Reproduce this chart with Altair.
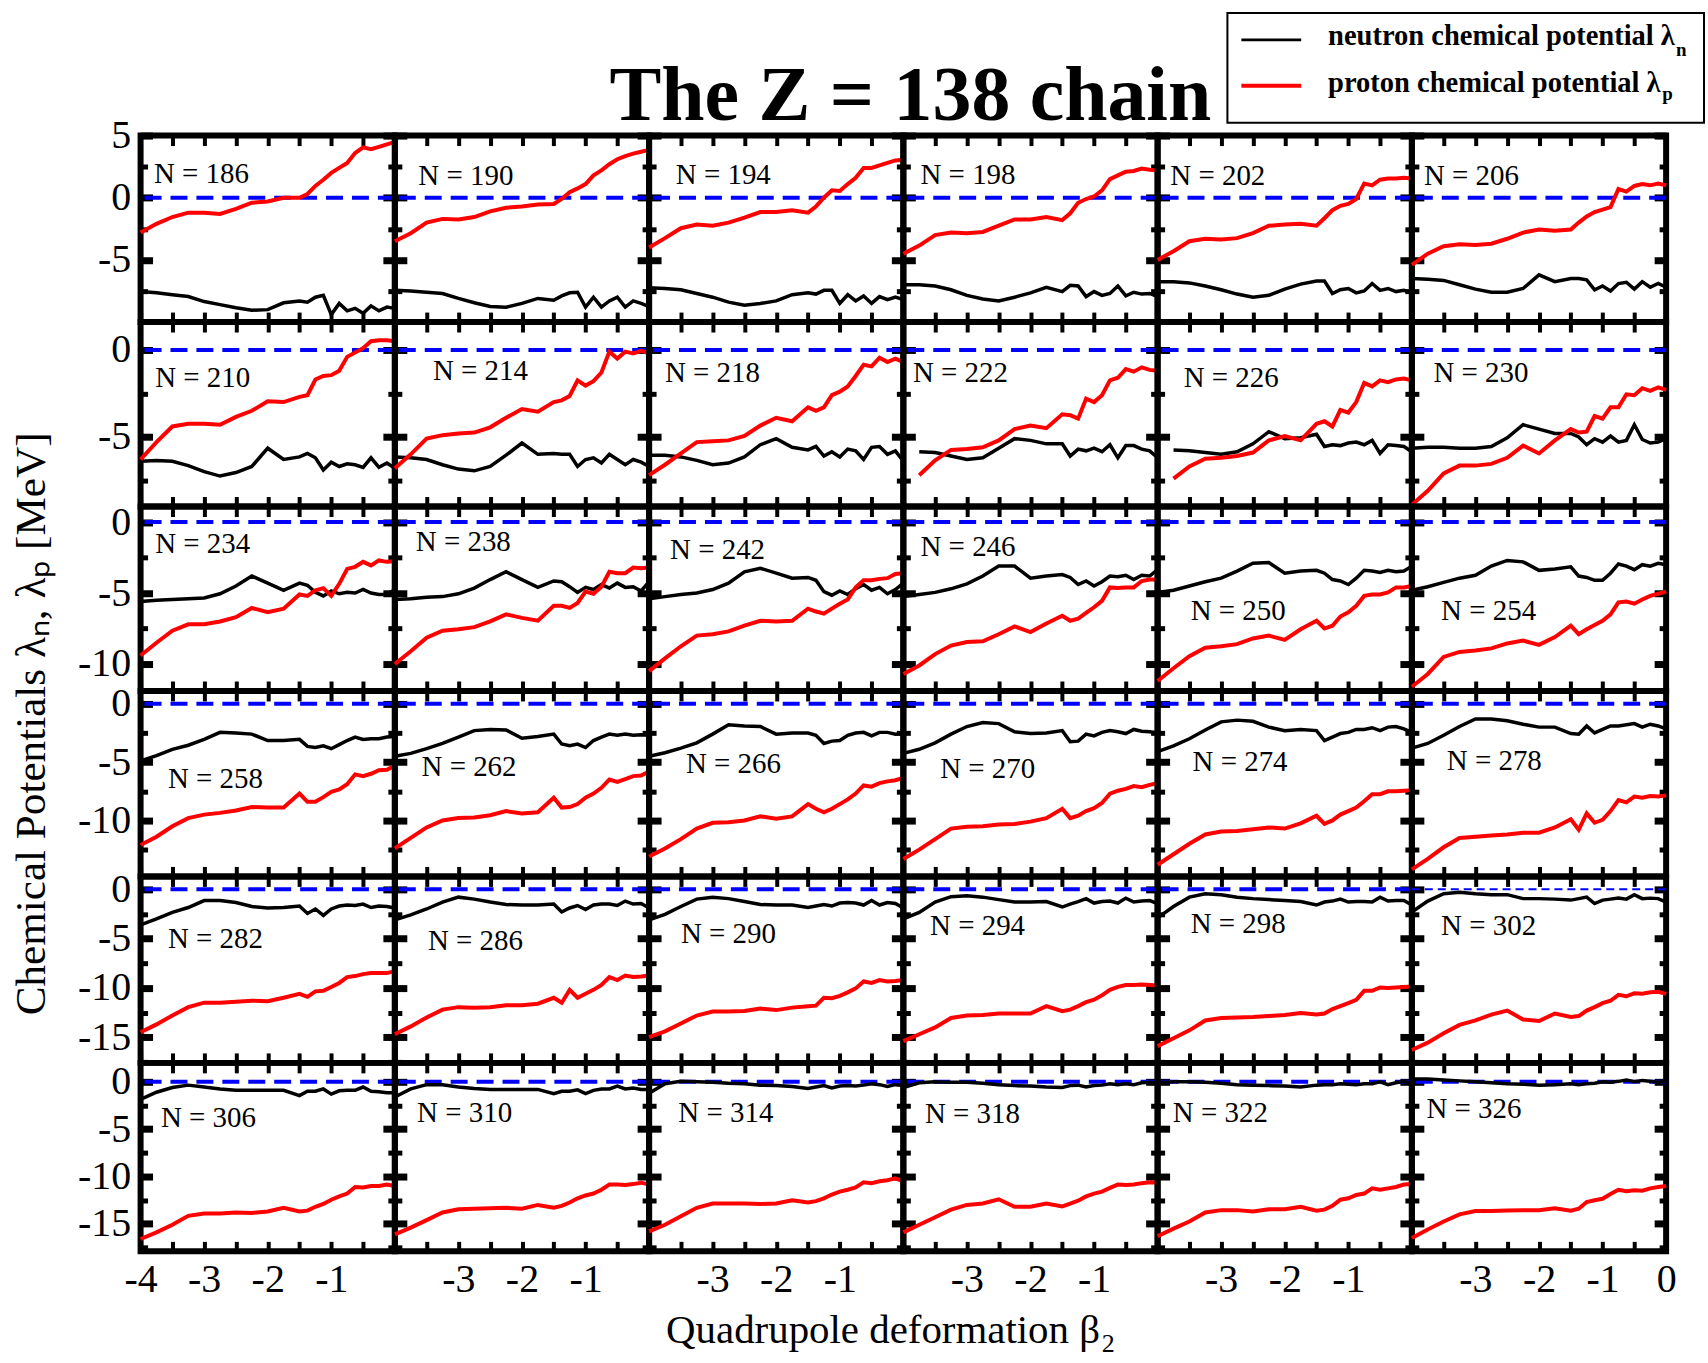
import altair as alt
import pandas as pd

SERIF = "Liberation Serif"

# deformation grid (beta_2) shared by all curves
BETA = [-4.0, -3.75, -3.5, -3.25, -3.0, -2.75, -2.5, -2.25, -2.0, -1.75, -1.5,
        -1.375, -1.25, -1.125, -1.0, -0.875, -0.75, -0.625, -0.5, -0.375, -0.25, -0.125, 0.0]

N_LIST = [186, 190, 194, 198, 202, 206,
          210, 214, 218, 222, 226, 230,
          234, 238, 242, 246, 250, 254,
          258, 262, 266, 270, 274, 278,
          282, 286, 290, 294, 298, 302,
          306, 310, 314, 318, 322, 326]

# neutron (ln_*) and proton (lp_*) chemical potentials in MeV
ln_186 = [-7.55, -7.65, -7.8, -7.95, -8.35, -8.6, -8.85, -9.05, -9.0, -8.45, -8.3, -8.4, -8.0, -7.85, -9.4, -8.5, -9.1, -8.9, -9.3, -8.7, -9.1, -8.8, -8.9]
lp_186 = [-2.8, -2.1, -1.55, -1.2, -1.2, -1.3, -0.9, -0.4, -0.3, 0.0, 0.0, 0.3, 0.95, 1.45, 2.0, 2.4, 2.8, 3.6, 4.05, 3.9, 4.1, 4.3, 4.5]
ln_190 = [-7.45, -7.5, -7.6, -7.7, -8.1, -8.45, -8.75, -8.8, -8.5, -8.1, -8.25, -7.9, -7.65, -7.6, -8.8, -8.0, -8.8, -8.3, -8.0, -8.8, -8.3, -8.5, -8.75]
lp_190 = [-3.5, -2.85, -2.0, -1.7, -1.75, -1.55, -1.1, -0.8, -0.7, -0.55, -0.5, -0.1, 0.45, 0.75, 1.1, 1.8, 2.2, 2.7, 3.1, 3.35, 3.55, 3.7, 3.85]
ln_194 = [-7.25, -7.3, -7.4, -7.7, -8.0, -8.4, -8.65, -8.5, -8.3, -7.8, -7.65, -7.75, -7.45, -7.45, -8.5, -7.8, -8.3, -7.9, -8.5, -7.95, -8.2, -8.0, -8.2]
lp_194 = [-4.0, -3.25, -2.45, -2.15, -2.25, -2.0, -1.6, -1.15, -1.15, -1.0, -1.2, -0.7, 0.0, 0.6, 0.55, 1.1, 1.6, 2.4, 2.4, 2.6, 2.8, 3.0, 3.05]
ln_198 = [-7.0, -7.0, -7.1, -7.4, -7.85, -8.15, -8.3, -8.0, -7.65, -7.2, -7.55, -7.05, -7.1, -7.95, -7.55, -7.85, -7.7, -7.1, -7.9, -7.6, -7.75, -7.7, -7.95]
lp_198 = [-4.5, -3.85, -3.0, -2.8, -2.85, -2.75, -2.25, -1.75, -1.75, -1.55, -1.8, -1.25, -0.4, -0.1, 0.1, 0.6, 1.5, 1.8, 2.1, 2.15, 2.35, 2.25, 2.2]
ln_202 = [-6.75, -6.75, -6.85, -7.1, -7.4, -7.75, -8.0, -7.85, -7.35, -6.95, -6.7, -6.7, -7.7, -7.4, -7.3, -7.65, -7.5, -6.9, -7.45, -7.3, -7.55, -7.45, -7.65]
lp_202 = [-5.0, -4.3, -3.5, -3.3, -3.35, -3.25, -2.85, -2.25, -2.15, -2.1, -2.25, -1.65, -1.0, -0.65, -0.5, -0.1, 1.15, 1.0, 1.45, 1.55, 1.55, 1.6, 1.55]
ln_206 = [-6.5, -6.55, -6.65, -7.0, -7.35, -7.6, -7.6, -7.3, -6.2, -6.75, -6.5, -6.5, -6.6, -7.4, -7.1, -7.5, -6.9, -6.8, -7.35, -6.75, -7.2, -6.9, -7.2]
lp_206 = [-5.4, -4.5, -3.9, -3.75, -3.8, -3.7, -3.3, -2.8, -2.55, -2.65, -2.55, -2.0, -1.5, -1.15, -0.95, -0.75, 0.7, 0.5, 0.95, 1.1, 1.0, 1.15, 1.0]

ln_210 = [-6.4, -6.35, -6.4, -6.65, -7.0, -7.25, -7.05, -6.7, -5.65, -6.3, -6.15, -5.95, -6.2, -6.9, -6.45, -6.7, -6.55, -6.6, -6.75, -6.2, -6.75, -6.5, -6.8]
lp_210 = [-6.3, -5.3, -4.4, -4.25, -4.25, -4.3, -3.85, -3.5, -2.95, -3.0, -2.7, -2.6, -1.7, -1.5, -1.45, -1.2, -0.4, -0.15, 0.1, 0.5, 0.55, 0.55, 0.5]
ln_214 = [-6.15, -6.2, -6.3, -6.6, -6.85, -6.95, -6.7, -6.05, -5.35, -6.0, -5.95, -6.0, -6.0, -6.7, -6.3, -6.2, -6.5, -6.0, -6.3, -6.6, -6.3, -6.45, -6.7]
lp_214 = [-6.8, -6.0, -5.1, -4.9, -4.8, -4.75, -4.45, -3.9, -3.4, -3.55, -3.0, -2.9, -2.65, -1.75, -2.05, -1.8, -1.3, -0.1, -0.5, -0.1, -0.2, -0.05, -0.2]
ln_218 = [-6.05, -6.05, -6.15, -6.35, -6.6, -6.5, -6.15, -5.45, -5.1, -5.6, -5.75, -5.55, -6.1, -5.85, -6.15, -5.7, -5.8, -6.3, -5.6, -5.55, -6.0, -5.8, -6.4]
lp_218 = [-7.2, -6.6, -5.95, -5.3, -5.25, -5.2, -4.95, -4.35, -3.9, -4.1, -3.3, -3.5, -3.3, -2.6, -2.4, -2.1, -1.5, -0.85, -0.95, -0.45, -0.7, -0.5, -0.7]
ln_222 = [None, -5.85, -5.9, -6.1, -6.3, -6.2, -5.65, -5.1, -5.2, -5.4, -5.4, -6.1, -5.7, -5.8, -5.65, -5.85, -5.45, -6.2, -5.5, -5.5, -5.7, -5.8, -6.2]
lp_222 = [None, -7.2, -6.35, -5.75, -5.7, -5.6, -5.2, -4.55, -4.35, -4.5, -3.7, -3.75, -3.95, -2.8, -3.0, -2.6, -1.75, -1.6, -1.1, -1.25, -1.0, -1.15, -1.2]
ln_226 = [None, -5.75, -5.8, -5.9, -6.0, -5.85, -5.4, -4.7, -5.1, -5.05, -4.85, -5.55, -5.45, -5.5, -5.35, -5.3, -5.45, -5.2, -5.95, -5.45, -5.5, -5.55, -5.85]
lp_226 = [None, -7.4, -6.7, -6.25, -6.2, -6.1, -5.9, -5.2, -4.95, -5.2, -4.25, -4.1, -4.4, -3.45, -3.6, -3.0, -1.9, -2.1, -1.75, -1.85, -1.7, -1.65, -1.75]
ln_230 = [-5.65, -5.6, -5.6, -5.65, -5.65, -5.55, -5.05, -4.3, -4.55, -4.8, -4.8, -5.0, -5.45, -5.1, -5.3, -4.95, -5.3, -5.2, -4.3, -5.15, -5.35, -5.3, -5.1]
lp_230 = [-8.9, -8.1, -7.1, -6.65, -6.65, -6.55, -6.2, -5.5, -5.95, -5.2, -4.55, -4.75, -4.7, -3.8, -3.95, -3.3, -3.3, -2.55, -2.6, -2.2, -2.35, -2.15, -2.3]

ln_234 = [-5.6, -5.5, -5.45, -5.4, -5.35, -5.05, -4.5, -3.8, -4.3, -4.8, -4.3, -4.45, -4.95, -5.2, -4.85, -5.05, -4.95, -5.0, -4.75, -5.0, -5.1, -5.1, -4.75]
lp_234 = [-9.4, -8.5, -7.65, -7.2, -7.2, -7.0, -6.7, -6.05, -6.35, -6.1, -5.1, -5.2, -4.8, -4.65, -5.2, -4.35, -3.3, -3.15, -2.8, -3.05, -2.7, -2.8, -2.75]
ln_238 = [-5.45, -5.4, -5.3, -5.25, -5.05, -4.65, -4.05, -3.5, -4.05, -4.6, -4.15, -4.2, -4.55, -4.95, -4.6, -4.75, -4.4, -4.65, -4.3, -4.6, -4.55, -4.85, -4.2]
lp_238 = [-10.0, -9.1, -8.15, -7.65, -7.55, -7.4, -7.0, -6.5, -6.75, -6.95, -5.9, -5.9, -6.05, -5.7, -4.9, -5.05, -4.55, -3.5, -3.6, -3.6, -3.2, -3.25, -3.2]
ln_242 = [-5.4, -5.25, -5.1, -5.0, -4.75, -4.3, -3.5, -3.25, -3.6, -3.95, -3.9, -4.1, -4.9, -5.15, -4.85, -5.1, -4.7, -4.4, -4.8, -4.6, -5.05, -4.75, -4.3]
lp_242 = [-10.5, -9.6, -8.75, -8.0, -7.9, -7.7, -7.3, -6.95, -7.0, -6.95, -6.1, -6.3, -6.45, -6.1, -5.75, -5.45, -4.6, -4.1, -4.1, -4.0, -3.95, -3.65, -3.6]
ln_246 = [-5.25, -5.1, -4.95, -4.7, -4.35, -3.8, -3.1, -3.1, -3.95, -3.8, -3.7, -3.9, -4.4, -4.15, -4.5, -4.2, -3.8, -3.85, -3.75, -4.05, -3.75, -3.8, -3.35]
lp_246 = [-10.7, -10.1, -9.3, -8.7, -8.45, -8.4, -7.9, -7.35, -7.75, -7.15, -6.6, -6.95, -6.8, -6.4, -6.0, -5.55, -4.6, -4.65, -4.6, -4.6, -4.15, -4.05, -4.05]
ln_250 = [-4.95, -4.8, -4.5, -4.2, -3.95, -3.45, -2.9, -2.85, -3.6, -3.45, -3.4, -3.6, -4.05, -4.15, -4.4, -3.95, -3.4, -3.45, -3.55, -3.4, -3.5, -3.45, -3.1]
lp_250 = [-11.2, -10.3, -9.45, -8.85, -8.75, -8.6, -8.2, -8.0, -8.3, -7.55, -6.95, -7.5, -7.3, -6.65, -6.35, -5.9, -5.2, -5.1, -5.1, -4.95, -4.6, -4.6, -4.5]
ln_254 = [-4.8, -4.55, -4.25, -3.95, -3.75, -3.1, -2.7, -2.8, -3.4, -3.3, -3.15, -3.8, -3.9, -4.1, -4.1, -3.6, -2.95, -3.1, -3.35, -3.0, -3.1, -2.9, -3.0]
lp_254 = [-11.6, -10.7, -9.5, -9.15, -9.05, -8.9, -8.55, -8.35, -8.65, -8.1, -7.3, -7.9, -7.55, -7.25, -6.95, -6.5, -5.65, -5.6, -5.75, -5.45, -5.2, -5.05, -4.9]

ln_258 = [-4.9, -4.45, -3.9, -3.55, -3.05, -2.45, -2.5, -2.6, -3.15, -3.15, -3.05, -3.65, -3.75, -3.6, -3.85, -3.5, -3.15, -2.85, -3.05, -3.0, -3.0, -2.85, -2.8]
lp_258 = [-12.1, -11.4, -10.5, -9.8, -9.5, -9.35, -9.15, -8.85, -8.9, -8.9, -7.7, -8.4, -8.4, -8.0, -7.55, -7.35, -6.9, -6.05, -6.2, -6.0, -5.7, -5.65, -5.3]
ln_262 = [-4.5, -4.25, -3.85, -3.4, -2.85, -2.3, -2.2, -2.25, -2.95, -2.8, -2.6, -3.45, -3.6, -3.45, -3.75, -3.15, -2.85, -2.6, -2.7, -2.6, -2.7, -2.65, -2.7]
lp_262 = [-12.4, -11.5, -10.6, -10.0, -9.8, -9.75, -9.55, -9.2, -9.4, -9.3, -8.05, -8.9, -8.85, -8.6, -8.05, -7.7, -7.2, -6.5, -6.7, -6.45, -6.2, -6.15, -5.8]
ln_266 = [-4.5, -4.2, -3.8, -3.35, -2.6, -1.8, -1.9, -1.95, -2.6, -2.5, -2.5, -2.7, -3.4, -3.2, -3.15, -2.7, -2.5, -2.45, -2.75, -2.45, -2.45, -2.6, -2.55]
lp_266 = [-13.1, -12.4, -11.6, -10.7, -10.2, -10.15, -10.0, -9.65, -9.85, -9.65, -8.6, -9.0, -9.3, -9.0, -8.6, -8.2, -7.7, -7.0, -7.1, -6.8, -6.65, -6.55, -6.35]
ln_270 = [-4.25, -3.9, -3.35, -2.6, -1.95, -1.6, -1.7, -2.4, -2.55, -2.5, -2.3, -3.25, -3.2, -2.6, -2.75, -2.45, -2.3, -2.4, -2.55, -2.2, -2.35, -2.4, -2.5]
lp_270 = [-13.3, -12.5, -11.6, -10.7, -10.55, -10.5, -10.35, -10.3, -10.1, -9.8, -9.0, -9.8, -9.6, -9.2, -8.95, -8.5, -7.7, -7.45, -7.3, -7.05, -7.15, -6.95, -6.8]
ln_274 = [-4.1, -3.6, -3.0, -2.25, -1.55, -1.4, -1.5, -2.0, -2.3, -2.2, -2.3, -3.15, -2.85, -2.55, -2.45, -2.2, -2.2, -2.05, -2.3, -2.0, -1.95, -2.15, -2.45]
lp_274 = [-13.8, -12.9, -12.0, -11.2, -10.95, -10.9, -10.75, -10.6, -10.7, -10.25, -9.6, -10.3, -10.0, -9.5, -9.2, -8.9, -8.35, -7.75, -7.75, -7.5, -7.5, -7.45, -7.4]
ln_278 = [-3.8, -3.4, -2.7, -1.95, -1.3, -1.3, -1.45, -1.75, -2.0, -2.0, -2.55, -2.6, -1.9, -2.5, -2.2, -1.9, -1.9, -1.8, -1.7, -2.0, -1.75, -1.9, -2.15]
lp_278 = [-14.2, -13.3, -12.3, -11.5, -11.4, -11.3, -11.2, -11.05, -11.05, -10.6, -9.9, -10.8, -9.4, -10.2, -9.95, -9.2, -8.25, -8.45, -7.95, -8.05, -7.9, -7.95, -7.85]

ln_282 = [-3.6, -3.0, -2.35, -1.85, -1.15, -1.15, -1.35, -1.75, -1.9, -1.85, -1.7, -2.45, -2.0, -2.65, -2.0, -1.7, -1.6, -1.65, -1.5, -1.85, -1.7, -1.75, -1.9]
lp_282 = [-14.5, -13.7, -12.8, -11.95, -11.5, -11.5, -11.4, -11.3, -11.35, -11.0, -10.6, -10.9, -10.35, -10.3, -9.9, -9.5, -8.9, -8.8, -8.6, -8.5, -8.5, -8.5, -8.3]
ln_286 = [-3.1, -2.6, -2.0, -1.3, -0.8, -1.0, -1.3, -1.55, -1.6, -1.6, -1.5, -2.3, -1.9, -1.65, -2.05, -1.6, -1.5, -1.5, -1.65, -1.2, -1.5, -1.45, -1.9]
lp_286 = [-14.7, -13.9, -13.0, -12.2, -11.95, -12.0, -11.95, -11.75, -11.75, -11.6, -11.0, -11.5, -10.2, -11.0, -10.6, -10.2, -9.7, -8.9, -9.2, -8.75, -8.9, -8.85, -8.75]
ln_290 = [-3.1, -2.55, -1.75, -1.0, -0.8, -0.95, -1.25, -1.55, -1.6, -1.6, -1.85, -1.7, -1.55, -1.7, -1.4, -1.35, -1.4, -1.6, -1.15, -1.6, -1.35, -1.45, -1.9]
lp_290 = [-15.0, -14.4, -13.6, -12.8, -12.4, -12.4, -12.35, -12.1, -12.25, -12.0, -11.85, -11.8, -11.0, -11.05, -10.8, -10.45, -10.05, -9.35, -9.5, -9.2, -9.35, -9.3, -9.2]
ln_294 = [-3.0, -2.35, -1.3, -0.75, -0.65, -0.8, -1.05, -1.3, -1.3, -1.25, -1.8, -1.5, -1.25, -0.95, -1.4, -1.25, -1.2, -1.4, -0.9, -1.3, -1.2, -1.15, -1.45]
lp_294 = [-15.4, -14.7, -14.0, -13.05, -12.8, -12.75, -12.6, -12.6, -12.6, -11.85, -12.35, -12.2, -11.85, -11.45, -11.2, -10.75, -10.2, -9.9, -9.7, -9.7, -9.65, -9.7, -9.75]
ln_298 = [-2.9, -1.75, -0.8, -0.45, -0.55, -0.8, -0.95, -1.05, -1.15, -1.25, -1.6, -1.3, -1.2, -1.0, -1.3, -1.25, -1.25, -1.3, -0.8, -1.2, -1.15, -1.15, -1.6]
lp_298 = [-15.9, -15.1, -14.3, -13.3, -13.05, -13.0, -12.95, -12.85, -12.75, -12.55, -12.7, -12.6, -12.15, -11.85, -11.55, -11.2, -10.3, -10.3, -9.95, -10.0, -9.95, -9.9, -9.85]
ln_302 = [-2.3, -1.2, -0.45, -0.3, -0.45, -0.55, -0.55, -0.95, -0.95, -1.0, -1.1, -0.95, -0.8, -1.45, -1.1, -1.0, -0.9, -1.0, -0.55, -0.95, -0.9, -0.95, -1.3]
lp_302 = [-16.3, -15.55, -14.6, -13.75, -13.3, -12.7, -12.3, -13.2, -13.35, -12.6, -12.95, -12.85, -12.3, -11.95, -11.55, -11.3, -10.7, -10.85, -10.55, -10.6, -10.45, -10.4, -10.6]

ln_306 = [-1.85, -1.1, -0.6, -0.35, -0.55, -0.75, -0.9, -0.9, -0.9, -0.9, -1.45, -1.0, -1.0, -0.75, -1.3, -0.95, -0.9, -0.9, -0.55, -1.0, -1.05, -1.15, -1.15]
lp_306 = [-16.6, -15.9, -15.1, -14.15, -13.9, -13.9, -13.8, -13.85, -13.7, -13.3, -13.7, -13.6, -13.2, -12.9, -12.45, -12.1, -11.8, -11.1, -11.15, -11.0, -11.0, -10.85, -11.0]
ln_310 = [-1.6, -0.75, -0.3, -0.3, -0.55, -0.7, -0.8, -0.8, -0.8, -0.8, -1.25, -1.0, -1.0, -0.85, -1.25, -0.9, -0.75, -0.75, -0.45, -0.75, -0.65, -0.8, -0.8]
lp_310 = [-16.1, -15.4, -14.6, -13.8, -13.45, -13.4, -13.35, -13.3, -13.4, -13.0, -13.3, -13.1, -12.75, -12.3, -12.0, -11.8, -11.4, -10.85, -10.85, -10.9, -10.8, -10.65, -10.85]
ln_314 = [-1.2, -0.2, 0.05, 0.0, -0.05, -0.15, -0.2, -0.35, -0.4, -0.5, -0.7, -0.55, -0.4, -0.65, -0.45, -0.4, -0.45, -0.35, -0.2, -0.3, -0.5, -0.3, -0.4]
lp_314 = [-15.8, -15.1, -14.2, -13.3, -12.85, -12.85, -12.85, -12.9, -12.85, -12.5, -12.75, -12.6, -12.3, -11.9, -11.6, -11.4, -11.15, -10.6, -10.7, -10.5, -10.4, -10.2, -10.5]
ln_318 = [-0.6, -0.1, 0.0, -0.05, -0.05, -0.15, -0.3, -0.4, -0.45, -0.55, -0.6, -0.4, -0.35, -0.55, -0.4, -0.35, -0.2, -0.3, -0.2, -0.3, -0.1, -0.05, -0.1]
lp_318 = [-15.9, -15.1, -14.3, -13.5, -13.0, -12.85, -12.4, -13.2, -13.2, -12.85, -13.15, -12.85, -12.55, -12.1, -11.8, -11.6, -11.2, -10.85, -10.9, -10.85, -10.7, -10.6, -10.65]
ln_322 = [-0.1, 0.0, 0.0, -0.05, -0.15, -0.3, -0.35, -0.4, -0.45, -0.55, -0.35, -0.3, -0.3, -0.2, -0.25, -0.3, -0.2, -0.2, 0.0, -0.3, -0.1, 0.05, -0.2]
lp_322 = [-16.3, -15.5, -14.75, -13.8, -13.55, -13.55, -13.7, -13.45, -13.45, -13.2, -13.6, -13.5, -13.1, -12.45, -12.3, -11.95, -11.8, -11.25, -11.4, -11.25, -11.1, -10.85, -10.8]
ln_326 = [0.3, 0.3, 0.2, 0.1, 0.0, -0.1, -0.2, -0.25, -0.35, -0.3, -0.2, -0.3, -0.2, -0.15, 0.0, -0.05, 0.05, 0.2, 0.0, 0.15, 0.05, -0.05, 0.05]
lp_326 = [-16.5, -15.6, -14.75, -14.0, -13.65, -13.65, -13.6, -13.55, -13.55, -13.35, -13.6, -13.4, -12.7, -12.5, -12.35, -11.85, -11.4, -11.55, -11.45, -11.5, -11.25, -11.1, -11.0]

NEUTRON = {n: globals()[f"ln_{n}"] for n in N_LIST}
PROTON = {n: globals()[f"lp_{n}"] for n in N_LIST}

# where each "N = ..." tag sits, in (beta, MeV) of its own panel
TAG_POS = {
    186: (-3.79, 1.9), 190: (-3.63, 1.75), 194: (-3.58, 1.8), 198: (-3.73, 1.8), 202: (-3.8, 1.75), 206: (-3.81, 1.75),
    210: (-3.77, -1.6), 214: (-3.4, -1.23), 218: (-3.75, -1.32), 222: (-3.85, -1.32), 226: (-3.59, -1.6), 230: (-3.66, -1.32),
    234: (-3.77, -1.51), 238: (-3.67, -1.4), 242: (-3.67, -1.98), 246: (-3.73, -1.74), 250: (-3.48, -6.28), 254: (-3.54, -6.28),
    258: (-3.57, -6.47), 262: (-3.58, -5.46), 266: (-3.42, -5.17), 270: (-3.42, -5.6), 274: (-3.45, -5.03), 278: (-3.45, -4.89),
    282: (-3.57, -5.07), 286: (-3.48, -5.24), 290: (-3.5, -4.55), 294: (-3.58, -3.7), 298: (-3.48, -3.53), 302: (-3.54, -3.7),
    306: (-3.68, -3.79), 310: (-3.65, -3.25), 314: (-3.54, -3.25), 318: (-3.66, -3.43), 322: (-3.76, -3.25), 326: (-3.77, -2.89),
}

# y range of each row of panels
ROW_DOMAINS = [(-10.0, 5.0), (-9.0, 1.6), (-11.9, 1.1), (-14.8, 1.1), (-17.6, 1.3), (-17.9, 2.0)]
ROW_HEIGHTS = [187, 185, 185, 186, 187, 189]
PANEL_W = 255

MAJOR = [5, 0, -5, -10, -15]
MINOR = [2.5, -2.5, -7.5, -12.5, -17.5]
X_TICKS = [-3.5, -3.0, -2.5, -2.0, -1.5, -1.0, -0.5]

ONE = pd.DataFrame({"k": [0]})


def y_axis(orient, values, size, width, labels):
    return alt.Axis(orient=orient, values=values, tickSize=size, tickWidth=width, offset=-size,
                    tickColor="black", domain=False, grid=False, title=None, labels=labels,
                    labelExpr="'' + datum.value", labelFont=SERIF, labelFontSize=40,
                    labelColor="black", labelPadding=10, labelFlush=False, labelOverlap=False)


def x_axis(orient, values, labels):
    return alt.Axis(orient=orient, values=values, tickSize=10, tickWidth=4, offset=-10,
                    tickColor="black", domain=False, grid=False, title=None, labels=labels,
                    labelExpr="datum.value % 1 == 0 ? '' + datum.value : ''",
                    labelFont=SERIF, labelFontSize=40, labelColor="black", labelPadding=8,
                    labelFlush=False, labelOverlap=False)


def note(text, x, y, size, weight="normal", align="left", baseline="alphabetic", angle=0):
    return alt.Chart(ONE).mark_text(
        text=text, font=SERIF, fontSize=size, fontWeight=weight, align=align,
        baseline=baseline, angle=angle, color="black",
    ).encode(x=alt.value(x), y=alt.value(y))


def decorations():
    # title, legend box and axis titles, placed relative to the first panel
    return [
        alt.Chart(ONE).mark_rule(opacity=0).encode(
            x=alt.value(-138), x2=alt.value(-137), y=alt.value(-130.5), y2=alt.value(-129.5)),
        note("The Z = 138 chain", 772, -16, 78, weight="bold", align="center"),
        alt.Chart(ONE).mark_rect(fill="white", stroke="black", strokeWidth=2).encode(
            x=alt.value(1090), x2=alt.value(1568), y=alt.value(-123), y2=alt.value(-13)),
        alt.Chart(ONE).mark_rule(color="black", strokeWidth=3).encode(
            x=alt.value(1104), x2=alt.value(1164), y=alt.value(-96)),
        alt.Chart(ONE).mark_rule(color="red", strokeWidth=4).encode(
            x=alt.value(1104), x2=alt.value(1164), y=alt.value(-50)),
        note("neutron chemical potential λ", 1191, -91, 28.6, weight="bold"),
        note("n", 1540, -80, 19, weight="bold"),
        note("proton chemical potential λ", 1191, -44, 28.6, weight="bold"),
        note("p", 1526, -36, 19, weight="bold"),
        note("Chemical Potentials λₙ, λₚ [MeV]", -96, 590, 43.3, align="center", angle=270),
        note("Quadrupole deformation β", 527, 1211, 41),
        note("2", 964, 1220, 26),
    ]


def panel(idx):
    r, c = divmod(idx, 6)
    n = N_LIST[idx]
    lo, hi = ROW_DOMAINS[r]
    xs = alt.Scale(domain=[-4, 0], nice=False, zero=False)
    ys = alt.Scale(domain=[lo, hi], nice=False, zero=False)
    major = [v for v in MAJOR if lo < v <= hi]
    minor = [v for v in MINOR if lo < v < hi]
    xv = list(X_TICKS)
    if c == 0:
        xv = [-4.0] + xv
    if c == 5:
        xv = xv + [0.0]

    neu = pd.DataFrame({"beta": BETA, "value": NEUTRON[n]}).dropna()
    pro = pd.DataFrame({"beta": BETA, "value": PROTON[n]}).dropna()
    zero = pd.DataFrame({"value": [0.0]})
    tx, ty = TAG_POS[n]
    tag = pd.DataFrame({"beta": [tx], "value": [ty], "label": [f"N = {n}"]})

    thin = n == 302
    rule = alt.Chart(zero).mark_rule(
        color="#0000ff", strokeWidth=2 if thin else 4, strokeDash=[8, 5] if thin else [17, 9]
    ).encode(y=alt.Y("value:Q", scale=ys, axis=None))

    def carrier(orient):
        # invisible copy of the neutron curve that carries the minor y ticks
        return alt.Chart(neu).mark_line(opacity=0).encode(
            x=alt.X("beta:Q", scale=xs, axis=None),
            y=alt.Y("value:Q", scale=ys, axis=y_axis(orient, minor, 7, 5, False)))

    neutron = alt.Chart(neu).mark_line(color="black", strokeWidth=3.5).encode(
        x=alt.X("beta:Q", scale=xs, axis=x_axis("bottom", xv, r == 5)),
        y=alt.Y("value:Q", scale=ys, axis=y_axis("left", major, 12, 7, c == 0)))
    proton = alt.Chart(pro).mark_line(color="red", strokeWidth=4).encode(
        x=alt.X("beta:Q", scale=xs, axis=x_axis("top", X_TICKS, False)),
        y=alt.Y("value:Q", scale=ys, axis=y_axis("right", major, 12, 7, False)))
    label = alt.Chart(tag).mark_text(
        align="left", baseline="middle", font=SERIF, fontSize=29, color="black"
    ).encode(
        x=alt.X("beta:Q", scale=xs, axis=None),
        y=alt.Y("value:Q", scale=ys, axis=None),
        text="label:N")

    layers = [rule, carrier("left"), carrier("right"), neutron, proton, label]
    if idx == 0:
        layers += decorations()
    return alt.layer(*layers).properties(width=PANEL_W, height=ROW_HEIGHTS[r]).resolve_axis(
        x="independent", y="independent")


panels = [panel(i) for i in range(36)]
chart = alt.concat(*panels, columns=6, spacing=0, bounds="flush").properties(
    padding=0, background="white"
).configure_view(stroke="black", strokeWidth=6)

chart.save("out.html", embed_options={"renderer": "svg", "actions": False})
